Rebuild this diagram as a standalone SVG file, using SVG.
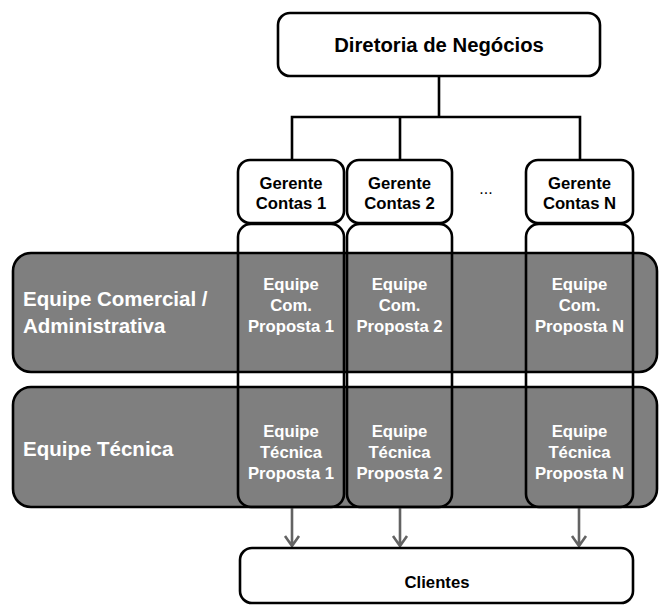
<svg xmlns="http://www.w3.org/2000/svg" width="659" height="606" viewBox="0 0 659 606">
  <style>
    .box { fill: #ffffff; stroke: #000000; stroke-width: 2.6; }
    .band { fill: #7f7f7f; stroke: #000000; stroke-width: 2.6; }
    .col { fill: none; stroke: #000000; stroke-width: 2.6; }
    .tree { fill: none; stroke: #000000; stroke-width: 2.6; }
    .arrow { fill: none; stroke: #636363; stroke-width: 2.6; }
    .lbl { font-family: "Liberation Sans", Arial, sans-serif; font-weight: bold; text-anchor: middle; }
    .lane-lbl { font-family: "Liberation Sans", Arial, sans-serif; font-weight: bold; font-size: 20.5px; fill: #ffffff; }
    .dark { fill: #000000; }
    .light { fill: #ffffff; }
  </style>

  <rect width="659" height="606" fill="#ffffff"/>

  <!-- swimlanes -->
  <g id="lane-comercial">
    <rect class="band" x="13" y="253" width="644" height="119" rx="18"/>
    <text class="lane-lbl" x="23" y="306">Equipe Comercial /</text>
    <text class="lane-lbl" x="23" y="333">Administrativa</text>
  </g>
  <g id="lane-tecnica">
    <rect class="band" x="13" y="387" width="644" height="120" rx="18"/>
    <text class="lane-lbl" x="23" y="456">Equipe Técnica</text>
  </g>

  <!-- connectors -->
  <g id="connectors">
    <path class="tree" d="M439,76 V117 M292,160 V117 H580 V160 M400,117 V160"/>
    <path class="arrow" d="M292,507 V546 M285,536 L292,546 L299,536"/>
    <path class="arrow" d="M400,507 V546 M393,536 L400,546 L407,536"/>
    <path class="arrow" d="M579,507 V546 M572,536 L579,546 L586,536"/>
  </g>

  <g id="diretoria">
    <rect class="box" x="278" y="13" width="322" height="63" rx="12"/>
    <text class="lbl dark" x="439" y="52" font-size="20.3">Diretoria de Negócios</text>
  </g>

  <g id="gerente-1">
    <rect class="box" x="238" y="160" width="106" height="63" rx="12"/>
    <text class="lbl dark" x="291" y="189" font-size="16.7">Gerente</text>
    <text class="lbl dark" x="291" y="209" font-size="16.7">Contas 1</text>
  </g>
  <g id="gerente-2">
    <rect class="box" x="347" y="160" width="105" height="63" rx="12"/>
    <text class="lbl dark" x="399.5" y="189" font-size="16.7">Gerente</text>
    <text class="lbl dark" x="399.5" y="209" font-size="16.7">Contas 2</text>
  </g>
  <g id="ellipsis">
    <text x="486" y="194" font-family="Liberation Sans, Arial, sans-serif" font-size="16" text-anchor="middle" fill="#000000">...</text>
  </g>
  <g id="gerente-n">
    <rect class="box" x="526" y="160" width="107" height="63" rx="12"/>
    <text class="lbl dark" x="579.5" y="189" font-size="16.7">Gerente</text>
    <text class="lbl dark" x="579.5" y="209" font-size="16.7">Contas N</text>
  </g>

  <!-- proposal columns (outline only, drawn over the lanes) -->
  <g id="proposta-1">
    <rect class="col" x="238" y="224" width="106" height="283" rx="13"/>
    <text class="lbl light" x="291" y="290" font-size="16.7">Equipe</text>
    <text class="lbl light" x="291" y="311" font-size="16.7">Com.</text>
    <text class="lbl light" x="291" y="332" font-size="16.7">Proposta 1</text>
    <text class="lbl light" x="291" y="437" font-size="16.7">Equipe</text>
    <text class="lbl light" x="291" y="458" font-size="16.7">Técnica</text>
    <text class="lbl light" x="291" y="479" font-size="16.7">Proposta 1</text>
  </g>
  <g id="proposta-2">
    <rect class="col" x="347" y="224" width="105" height="283" rx="13"/>
    <text class="lbl light" x="399.5" y="290" font-size="16.7">Equipe</text>
    <text class="lbl light" x="399.5" y="311" font-size="16.7">Com.</text>
    <text class="lbl light" x="399.5" y="332" font-size="16.7">Proposta 2</text>
    <text class="lbl light" x="399.5" y="437" font-size="16.7">Equipe</text>
    <text class="lbl light" x="399.5" y="458" font-size="16.7">Técnica</text>
    <text class="lbl light" x="399.5" y="479" font-size="16.7">Proposta 2</text>
  </g>
  <g id="proposta-n">
    <rect class="col" x="526" y="224" width="107" height="283" rx="13"/>
    <text class="lbl light" x="579.5" y="290" font-size="16.7">Equipe</text>
    <text class="lbl light" x="579.5" y="311" font-size="16.7">Com.</text>
    <text class="lbl light" x="579.5" y="332" font-size="16.7">Proposta N</text>
    <text class="lbl light" x="579.5" y="437" font-size="16.7">Equipe</text>
    <text class="lbl light" x="579.5" y="458" font-size="16.7">Técnica</text>
    <text class="lbl light" x="579.5" y="479" font-size="16.7">Proposta N</text>
  </g>

  <g id="clientes">
    <rect class="box" x="240" y="548" width="393" height="55" rx="12"/>
    <text class="lbl dark" x="437" y="588" font-size="16.7">Clientes</text>
  </g>
</svg>
